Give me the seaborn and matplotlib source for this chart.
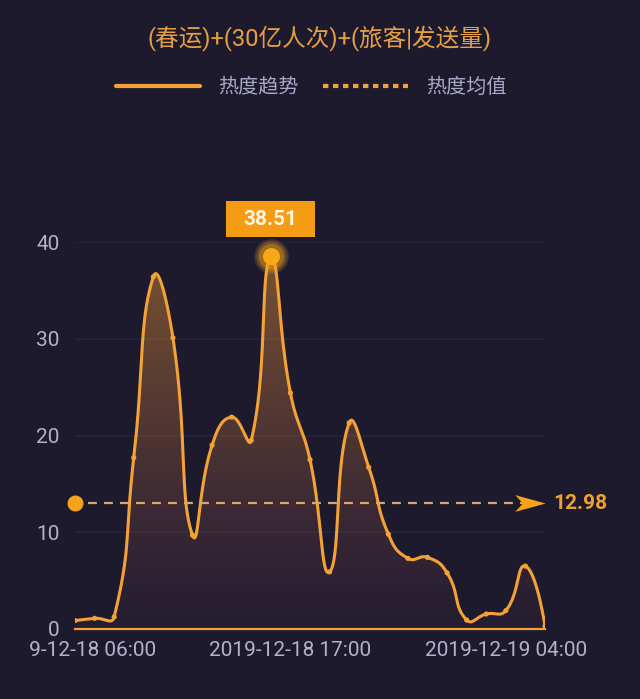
import numpy as np
import pandas as pd
import matplotlib
matplotlib.use("Agg")
import matplotlib.pyplot as plt
import seaborn as sns
from matplotlib.lines import Line2D
from matplotlib.path import Path
from matplotlib.patches import Rectangle
from matplotlib.colors import LinearSegmentedColormap
from matplotlib.transforms import Bbox

# ---------------- data ----------------
title = "(春运)+(30亿人次)+(旅客|发送量)"
series_name = "热度趋势"
mean_name = "热度均值"
times = pd.date_range("2019-12-18 06:00", periods=25, freq="h")
values = [0.87, 1.10, 1.25, 17.7, 36.4, 30.1, 9.7, 19.0, 21.9, 19.5, 38.51,
          24.4, 17.5, 5.9, 21.3, 16.7, 9.8, 7.3, 7.4, 5.8, 0.93, 1.55, 1.9, 6.5, 0.3]
mean_value = 12.98
x_tick_labels = ["2019-12-18 06:00", "2019-12-18 17:00", "2019-12-19 04:00"]
y_ticks = [0, 10, 20, 30, 40]

# ---------------- style ----------------
BG = "#1d1a2e"
ORANGE = "#f4a235"
sns.set_theme(style="dark")
plt.rcParams["font.family"] = ["Roboto", "Noto Sans CJK SC", "DejaVu Sans"]
plt.rcParams["axes.unicode_minus"] = False

fig = plt.figure(figsize=(6.4, 6.99), dpi=100, facecolor=BG)
W, H = 640, 699
ax = fig.add_axes([75 / W, 1 - 629 / H, 470 / W, 387 / H])
ax.set_facecolor(BG)

labels = [t.strftime("%Y-%m-%d %H:%M") for t in times]
x = np.arange(len(values), dtype=float)
y = np.array(values, dtype=float)
df = pd.DataFrame({"x": x, "value": y, "time": labels})

ax.set_xlim(0, len(values) - 1)
ax.set_ylim(0, 40)

# smooth curve (echarts-like bezier smoothing, computed in pixel space)
sx, sy = 470 / (len(values) - 1), 387 / 40
P = np.column_stack([x * sx, y * sy])
n = len(P)
smooth = 0.5
cin = P.copy()
cout = P.copy()
ymin, ymax = P[:, 1].min(), P[:, 1].max()
for i in range(1, n - 1):
    v = P[i + 1] - P[i - 1]
    d0 = np.linalg.norm(P[i] - P[i - 1])
    d1 = np.linalg.norm(P[i + 1] - P[i])
    s = d0 + d1
    if s > 0:
        d0, d1 = d0 / s, d1 / s
    cin[i] = P[i] - v * smooth * d0
    cout[i] = P[i] + v * smooth * d1
cin[:, 1] = np.clip(cin[:, 1], ymin, ymax)
cout[:, 1] = np.clip(cout[:, 1], ymin, ymax)
ts = np.linspace(0, 1, 40)[:, None]
pts = []
for i in range(n - 1):
    b = ((1 - ts) ** 3) * P[i] + 3 * ((1 - ts) ** 2) * ts * cout[i] + \
        3 * (1 - ts) * ts ** 2 * cin[i + 1] + ts ** 3 * P[i + 1]
    pts.append(b if i == 0 else b[1:])
pts = np.vstack(pts)
curve = pd.DataFrame({"x": pts[:, 0] / sx, "value": pts[:, 1] / sy})

# gradient fill under curve
poly = ax.fill_between(curve["x"], curve["value"], 0, color="none", lw=0)
cmap = LinearSegmentedColormap.from_list(
    "g", [(0.0, (0.75, 0.35, 0.45, 0.05)),
          (0.5, (0.92, 0.55, 0.25, 0.24)),
          (1.0, (0.96, 0.62, 0.20, 0.44))])
grad = np.linspace(0, 1, 256).reshape(-1, 1)
im = ax.imshow(grad, extent=[0, len(values) - 1, 0, 40], origin="lower",
               aspect="auto", cmap=cmap, zorder=1)
im.set_clip_path(poly.get_paths()[0], transform=ax.transData)

sns.lineplot(data=curve, x="x", y="value", ax=ax, color=ORANGE, lw=2.2,
             sort=False, zorder=3, legend=False)
sns.scatterplot(data=df, x="x", y="value", ax=ax, color=ORANGE, s=14,
                edgecolor="none", zorder=4, legend=False)

# grid & axes
ax.set_yticks(y_ticks)
ax.yaxis.grid(True, color="#272439", lw=1.2)
ax.xaxis.grid(False)
tick_pos = [labels.index(l) for l in x_tick_labels]
ax.set_xticks(tick_pos)
ax.set_xticklabels(x_tick_labels)
ax.tick_params(axis="x", length=0, pad=9, labelsize=15, labelcolor="#b3b2cc")
ax.tick_params(axis="y", length=0, pad=11, labelsize=15, labelcolor="#b3b2cc")
# the first label is clipped by the chart container on the left, as in the original
first = ax.get_xticklabels()[0]
first.set_clip_box(Bbox.from_extents(28, 0, W, H))
first.set_clip_on(True)
for sp in ["top", "right", "left"]:
    ax.spines[sp].set_visible(False)
ax.spines["bottom"].set_color(ORANGE)
ax.spines["bottom"].set_linewidth(1.6)
ax.set_xlabel("")
ax.set_ylabel("")

# mean line with circle, arrow and label
xe = len(values) - 1
ax.plot([0.66, xe - 0.9], [mean_value, mean_value], color="#dca76c",
        lw=1.6, ls=(0, (4, 3.2)), zorder=5)
ax.scatter([0], [mean_value], s=110, color="#f6a21a", zorder=6, clip_on=False)
arrow = Path([(-1, -0.55), (1, 0), (-1, 0.55), (-0.5, 0), (-1, -0.55)],
             [Path.MOVETO, Path.LINETO, Path.LINETO, Path.LINETO, Path.CLOSEPOLY])
ax.scatter([xe - 0.75], [mean_value], marker=arrow, s=480, color="#f6a21a",
           zorder=6, clip_on=False, linewidths=0)
ax.annotate(f"{mean_value:.2f}", xy=(xe, mean_value), xytext=(6, 0),
            textcoords="offset points", ha="left", va="center",
            fontsize=15, fontweight="bold", color="#f0a030",
            annotation_clip=False)

# peak marker with glow and label box
pi = int(np.argmax(y))
pv = y[pi]
for s_, a_ in [(620, 0.18), (470, 0.25), (330, 0.35)]:
    ax.scatter([pi], [pv], s=s_, color="#f5a21a", alpha=a_, zorder=6,
               clip_on=False, linewidths=0)
ax.scatter([pi], [pv], s=150, color="#f8a816", zorder=7, clip_on=False,
           linewidths=0)
px, py = ax.transData.transform((pi, pv))
bw, bh = 89, 36
rect = Rectangle(((px - bw / 2) / W, (py + 19) / H), bw / W, bh / H,
                 transform=fig.transFigure, facecolor="#f49c14",
                 edgecolor="none", zorder=8)
fig.patches.append(rect)
fig.text(px / W, (py + 19 + bh / 2) / H, f"{pv:.2f}", ha="center",
         va="center", fontsize=15, fontweight="bold", color="#fff4e0",
         zorder=9)

# title and legend
fig.text(0.5, 1 - 38 / H, title, ha="center", va="center", fontsize=17,
         color="#e6a043")
handles = [Line2D([], [], color=ORANGE, lw=3),
           Line2D([], [], color=ORANGE, lw=3, ls=(0, (1.3, 1.1)))]
leg = fig.legend(handles, [series_name, mean_name], loc="center",
                 bbox_to_anchor=(311 / W, 1 - 87 / H), ncol=2, frameon=False,
                 fontsize=14.5, handlelength=4.2, handletextpad=0.9,
                 columnspacing=1.2, labelcolor="#a9a8c6")

fig.savefig("out.png", dpi=100, facecolor=BG)
